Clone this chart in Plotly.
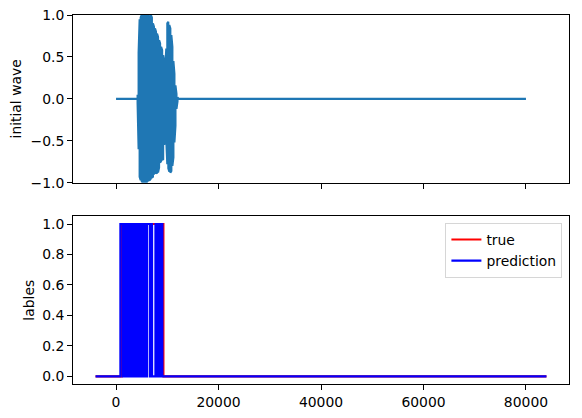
import plotly.graph_objects as go
from plotly.subplots import make_subplots

# ---- top panel: waveform (flat zero, burst envelope) ----
wave_start = 0
wave_end = 80000
burst_x = [4200, 4400, 4600, 4800, 5000, 5200, 5400, 5600, 5800, 6000,
           6200, 6400, 6600, 6800, 7000, 7200, 7400, 7600, 7800, 8000,
           8200, 8400, 8600, 8800, 9000, 9200, 9400, 9600, 9800, 10000,
           10200, 10400, 10600, 10800, 11000, 11200, 11400, 11600, 11800, 12000]
burst_upper = [0.05, 0.55, 0.95, 0.97, 1.0, 1.0, 1.0, 1.0, 0.99, 0.98,
               1.0, 0.99, 0.98, 1.0, 0.97, 0.9, 0.86, 0.84, 0.8, 0.78,
               0.74, 0.7, 0.66, 0.62, 0.58, 0.52, 0.44, 0.38, 0.6, 0.9,
               0.92, 0.88, 0.84, 0.76, 0.62, 0.45, 0.3, 0.16, 0.06, 0.02]
burst_lower = [-0.05, -0.6, -0.93, -0.97, -0.98, -1.0, -0.97, -1.0, -0.99, -1.0,
               -0.97, -0.98, -0.97, -0.95, -0.94, -0.93, -0.9, -0.87, -0.88, -0.89,
               -0.88, -0.82, -0.76, -0.74, -0.73, -0.72, -0.55, -0.42, -0.5, -0.78,
               -0.83, -0.87, -0.88, -0.86, -0.8, -0.7, -0.52, -0.32, -0.12, -0.03]

# ---- bottom panel: labels, given as the x positions where the 0/1 value flips ----
label_start = -4000
label_end = 84000
true_flips = [1100, 9250]
pred_flips = [841,
              1290, 1570, 1850, 2130, 2410, 2690, 2970, 3250, 3530, 3830,
              4160, 4430, 4700, 4970, 5240, 5510, 5790,
              6060, 6600, 6800, 7040,
              7680, 7950, 8220, 8490, 8760, 9050]

x_ticks = [0, 20000, 40000, 60000, 80000]
wave_ticks = [-1.0, -0.5, 0.0, 0.5, 1.0]
label_ticks = [0.0, 0.2, 0.4, 0.6, 0.8, 1.0]


def wave_path():
    xs, ys = [wave_start, burst_x[0]], [0, 0]
    for i, (x, up, lo) in enumerate(zip(burst_x, burst_upper, burst_lower)):
        pair = (up, lo) if i % 2 == 0 else (lo, up)
        xs += [x, x]
        ys += list(pair)
    xs += [burst_x[-1] + 200, wave_end]
    ys += [0, 0]
    return xs, ys


def step_path(flips):
    xs, ys = [label_start], [0]
    level = 0
    for f in flips:
        xs += [f, f]
        ys += [level, 1 - level]
        level = 1 - level
    xs.append(label_end)
    ys.append(level)
    return xs, ys


FONT = 'DejaVu Sans'
FS = 13.9

fig = make_subplots(rows=2, cols=1, shared_xaxes=True)

wx, wy = wave_path()
fig.add_trace(go.Scatter(x=wx, y=wy, mode='lines', showlegend=False,
                         line=dict(color='#1f77b4', width=2.08)), row=1, col=1)

tx, ty = step_path(true_flips)
fig.add_trace(go.Scatter(x=tx, y=ty, mode='lines', name='true',
                         line=dict(color='red', width=2.08)), row=2, col=1)
px_, py_ = step_path(pred_flips)
fig.add_trace(go.Scatter(x=px_, y=py_, mode='lines', name='prediction',
                         line=dict(color='blue', width=2.08)), row=2, col=1)

axis_style = dict(showline=True, mirror=True, linecolor='black', linewidth=1.1,
                  ticks='outside', ticklen=4.9, tickwidth=1.1, tickcolor='black',
                  showgrid=False, zeroline=False, automargin=False,
                  ticklabeloverflow='allow',
                  tickfont=dict(family=FONT, size=FS, color='black'))

fig.update_xaxes(**axis_style, range=[-8400, 88400], tickvals=x_ticks, tickformat='d')
fig.update_xaxes(showticklabels=False, row=1, col=1)
fig.update_yaxes(**axis_style)
fig.update_yaxes(range=[-1, 1], tickvals=wave_ticks, tickformat='.1f', domain=[0.5455, 1],
                 title=dict(text='initial wave', standoff=5, font=dict(family=FONT, size=FS)),
                 row=1, col=1)
fig.update_yaxes(range=[-0.05, 1.05], tickvals=label_ticks, tickformat='.1f', domain=[0, 0.4542],
                 title=dict(text='lables', standoff=4, font=dict(family=FONT, size=FS)),
                 row=2, col=1)

# the page puts the figure 8px in from the window edge, so margins are shifted by that
fig.update_layout(
    width=582, height=418,
    margin=dict(l=65.3, r=20.7, t=7.3, b=41.7),
    paper_bgcolor='white', plot_bgcolor='white',
    font=dict(family=FONT, size=FS, color='black'),
    legend=dict(x=0.9867, y=0.4363, xanchor='right', yanchor='top',
                bgcolor='white', bordercolor='#d6d6d6', borderwidth=1,
                font=dict(family=FONT, size=FS), itemwidth=30),
)

fig.write_html('out.html')
